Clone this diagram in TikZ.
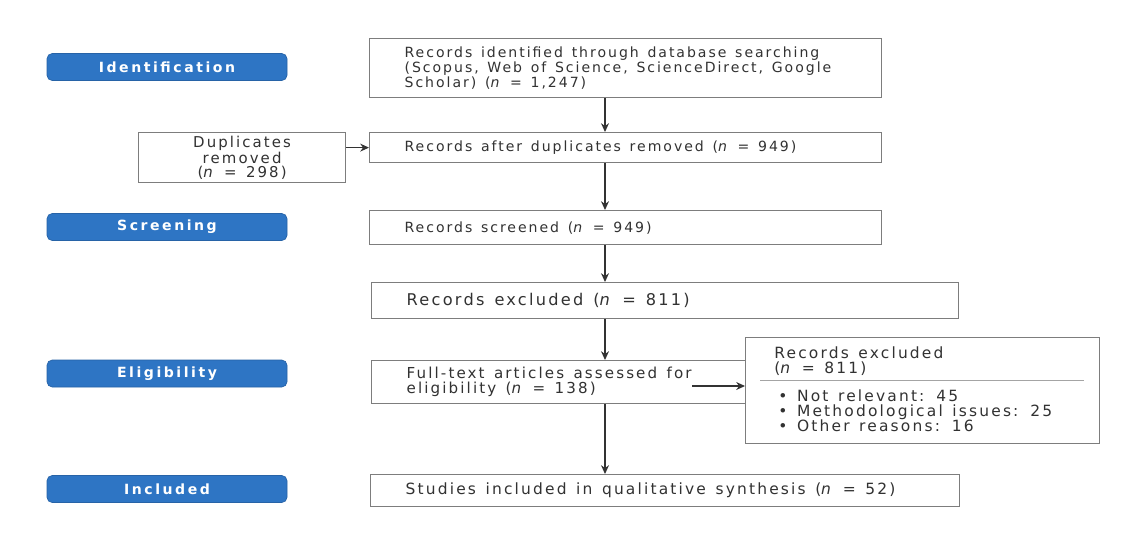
\documentclass[tikz,border=0pt]{standalone}
\usepackage{fontspec}
\setsansfont{DejaVu Sans}[LetterSpace=14]
\usetikzlibrary{positioning,calc,arrows.meta}
\definecolor{phaseblue}{RGB}{46,117,196}
\definecolor{boxline}{RGB}{125,125,125}
\definecolor{ink}{RGB}{50,50,50}
\newcommand{\nn}{\textit{n}}

\begin{document}
\begin{tikzpicture}[font=\sffamily\fontsize{8}{8.6}\selectfont]
\tikzset{
  phase/.style={rounded corners=3pt, fill=phaseblue, draw=phaseblue!85!black, line width=0.4pt, text=white, minimum width=4.8cm, minimum height=0.54cm, inner sep=0pt, font=\sffamily\bfseries\fontsize{8}{8.6}\selectfont\addfontfeatures{LetterSpace=18}},
  wide/.style={execute at begin node={\spaceskip=0.62em\relax}},
  fsize/.style={font=\sffamily\fontsize{#1}{8.6}\selectfont},
  box/.style={wide, draw=boxline, line width=0.7pt, fill=white, text=ink, align=left, inner xsep=0.7cm, inner ysep=0pt, anchor=north west},
  arr/.style={draw=black!80, line width=0.6pt, -{Stealth[length=5pt,width=4.5pt]}},
  sepline/.style={draw=boxline!70, line width=0.5pt}
}
\useasboundingbox (0,0) rectangle (22.7,-10.96);
\fill[white] (0,0) rectangle (22.7,-10.96);
% phase labels
\foreach \id/\y/\txt in {ident/-1.34/Identification, screen/-4.54/Screening, elig/-7.47/Eligibility, incl/-9.78/Included}
  \node[phase] (ph-\id) at (3.34,\y) {\txt};
% main column
\node[box, text width=8.84cm, minimum height=1.18cm] (ident) at (7.38,-0.76)
  {Records identified through database searching\\(Scopus, Web of Science, ScienceDirect, Google\\Scholar) (\nn{} = 1,247)};
\node[box, text width=8.84cm, minimum height=0.60cm] (dedup) at (7.38,-2.64)
  {Records after duplicates removed (\nn{} = 949)};
\node[box, text width=8.84cm, minimum height=0.68cm] (screen) at (7.38,-4.20)
  {Records screened (\nn{} = 949)};
\node[box, fsize=9.2, text width=10.34cm, minimum height=0.72cm] (excl) at (7.42,-5.64)
  {Records excluded (\nn{} = 811)};
\node[box, fsize=8.6, text width=6.12cm, minimum height=0.86cm] (full) at (7.42,-7.20)
  {Full-text articles assessed for\\eligibility (\nn{} = 138)};
\node[box, fsize=8.8, text width=10.38cm, minimum height=0.64cm] (incl) at (7.40,-9.48)
  {Studies included in qualitative synthesis (\nn{} = 52)};
% side boxes
\node[box, align=center, text width=2.74cm, minimum height=1.00cm, font=\sffamily\fontsize{8.5}{7.8}\selectfont] (dup) at (2.76,-2.64)
  {Duplicates\\removed\\(\nn{} = 298)};
\node[box, minimum width=7.08cm, minimum height=2.12cm, inner xsep=0pt] (side) at (14.90,-6.74) {};
\node[wide, fsize=8.8, anchor=north west, align=left, text=ink, inner sep=0pt] (side-head) at ($(side.north west)+(0.58,-0.18)$)
  {Records excluded\\(\nn{} = 811)};
\draw[sepline] ($(side.north west)+(0.30,-0.86)$) -- ($(side.north east)+(-0.32,-0.86)$);
\node[wide, fsize=8.8, anchor=north west, align=left, text=ink, inner sep=0pt] (side-list) at ($(side.north west)+(0.66,-1.04)$)
  {• Not relevant: 45\\• Methodological issues: 25\\• Other reasons: 16};
% connectors
\coordinate (axis) at (12.10,0);
\draw[arr] (ident.south -| axis) -- (dedup.north -| axis);
\draw[arr] (dedup.south -| axis) -- (screen.north -| axis);
\draw[arr] (screen.south -| axis) -- (excl.north -| axis);
\draw[arr] (excl.south -| axis) -- (full.north -| axis);
\draw[arr] (full.south -| axis) -- (incl.north -| axis);
\draw[arr] (dup.east |- dedup.west) -- (dedup.west);
\coordinate (sidefrom) at (13.84,-7.72);
\draw[arr] (sidefrom) -- (sidefrom -| side.west);
\end{tikzpicture}
\end{document}
